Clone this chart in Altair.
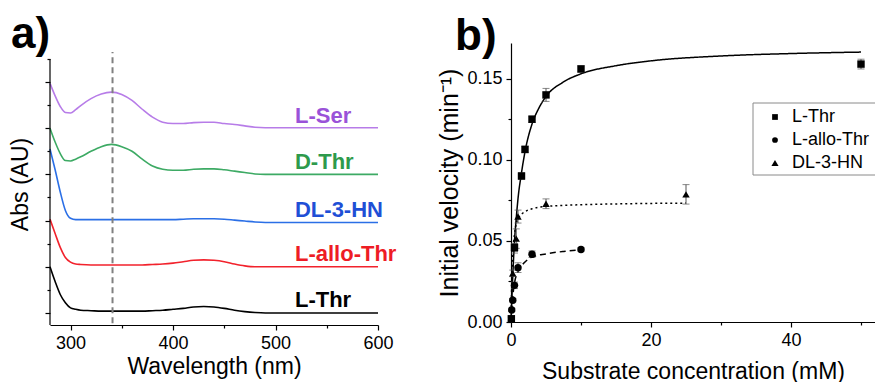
import altair as alt
import pandas as pd

FONT = "Liberation Sans"

# ---------------- Panel a data (UV-vis spectra, stacked with offsets) ----------------
wavelength = [280, 285, 290, 295, 300, 305, 310, 320, 330, 340, 350, 360, 370, 380,
              390, 400, 410, 420, 430, 440, 450, 460, 470, 480, 490, 500, 550, 600]
abs_l_ser = [4.97, 4.70, 4.47, 4.34, 4.33, 4.40, 4.49, 4.64, 4.74, 4.78, 4.73, 4.60, 4.41, 4.24,
             4.13, 4.10, 4.10, 4.12, 4.13, 4.13, 4.10, 4.08, 4.05, 4.02, 4.01, 4.01, 4.01, 4.01]
abs_d_thr = [4.00, 3.70, 3.45, 3.30, 3.29, 3.33, 3.38, 3.50, 3.60, 3.65, 3.60, 3.50, 3.33, 3.18,
             3.11, 3.09, 3.09, 3.11, 3.12, 3.12, 3.10, 3.07, 3.04, 3.01, 3.00, 3.00, 3.00, 3.00]
abs_dl_3hn = [3.55, 3.10, 2.62, 2.22, 2.05, 2.02, 2.02, 2.02, 2.02, 2.02, 2.02, 2.02, 2.02, 2.02,
              2.02, 2.02, 2.03, 2.04, 2.04, 2.04, 2.03, 2.01, 1.99, 1.97, 1.96, 1.96, 1.96, 1.96]
abs_l_allo = [2.03, 1.72, 1.42, 1.20, 1.10, 1.06, 1.05, 1.04, 1.04, 1.04, 1.04, 1.04, 1.04, 1.05,
              1.06, 1.08, 1.11, 1.14, 1.15, 1.14, 1.11, 1.06, 1.02, 1.00, 1.00, 1.00, 1.00, 1.00]
abs_l_thr = [1.00, 0.68, 0.40, 0.22, 0.11, 0.08, 0.06, 0.05, 0.04, 0.04, 0.04, 0.04, 0.04, 0.05,
             0.06, 0.08, 0.10, 0.13, 0.14, 0.13, 0.10, 0.06, 0.03, 0.01, 0.00, 0.00, 0.00, 0.00]

spec_names = ["L-Ser", "D-Thr", "DL-3-HN", "L-allo-Thr", "L-Thr"]
spec_values = [abs_l_ser, abs_d_thr, abs_dl_3hn, abs_l_allo, abs_l_thr]
line_colors = ["#B77CE8", "#3DAA64", "#2B6FE6", "#F2222C", "#000000"]
text_colors = ["#9A52D8", "#2E9A4C", "#1F4FD6", "#EE1C25", "#000000"]
label_y = [4.26, 3.27, 2.23, 1.28, 0.28]
label_wl = 519
marker_wl = 341

a_x_ticks = [300, 400, 500, 600]
a_x_minor = [350, 450, 550]
a_y_ticks = [0, 1, 2, 3, 4, 5]
a_y_minor = [0.5, 1.5, 2.5, 3.5, 4.5, 5.5]

# ---------------- Panel b data (kinetics) ----------------
series_b = ["L-Thr", "L-allo-Thr", "DL-3-HN"]
shapes_b = ["square", "circle", "triangle-up"]
sizes_b = [55, 55, 85]

lthr_x = [0.05, 0.5, 1.5, 2, 3, 5, 10, 50]
lthr_y = [0.002, 0.046, 0.090, 0.1064, 0.125, 0.140, 0.156, 0.159]
lthr_e = [0.001, 0.002, 0.002, 0.002, 0.002, 0.004, 0.002, 0.003]

lallo_x = [0.1, 0.25, 0.5, 1, 3, 10]
lallo_y = [0.0074, 0.0134, 0.0226, 0.0335, 0.0418, 0.0447]
lallo_e = [0.001, 0.001, 0.002, 0.003, 0.002, 0.001]

dl_x = [0.25, 0.5, 0.75, 1, 5, 25]
dl_y = [0.030, 0.0455, 0.0514, 0.0650, 0.0729, 0.0787]
dl_e = [0.002, 0.003, 0.006, 0.004, 0.003, 0.006]

fit_lthr_x = [0, 0.25, 0.5, 0.75, 1, 1.5, 2, 3, 4, 5, 7.5, 10, 15, 20, 30, 40, 50]
fit_lthr_y = [0, 0.028, 0.050, 0.064, 0.076, 0.092, 0.105, 0.122, 0.132, 0.139, 0.148, 0.153,
              0.158, 0.161, 0.164, 0.1655, 0.1664]
fit_lallo_x = [0, 0.1, 0.25, 0.5, 1, 2, 3, 5, 7.5, 10]
fit_lallo_y = [0, 0.0075, 0.0155, 0.024, 0.031, 0.037, 0.040, 0.042, 0.0435, 0.0445]
fit_dl_x = [0, 0.1, 0.25, 0.5, 1, 2, 3, 5, 10, 15, 25]
fit_dl_y = [0, 0.022, 0.040, 0.054, 0.0635, 0.068, 0.0698, 0.0712, 0.0723, 0.0728, 0.0733]

b_x_ticks = [0, 20, 40]
b_x_minor = [10, 30, 50]
b_y_ticks = [0, 0.05, 0.10, 0.15]
b_y_minor = [0.025, 0.075, 0.125]

legend_rows_y = [74, 97, 120]

# ---------------- geometry ----------------
A_W, A_H = 328, 282
B_W, B_H = 364, 279
A_X = [280, 600]
A_Y = [-0.26, 5.844]
B_X = [0, 52]
B_Y = [0, 0.172]


def sc(domain):
    return alt.Scale(domain=domain, nice=False, zero=False)


def minor_axis(orient, values):
    return alt.Axis(orient=orient, values=values, labels=False, domain=False,
                    tickSize=3, title=None, grid=False)


# ---------------- Panel a ----------------
rows = []
for name, vals, col in zip(spec_names, spec_values, line_colors):
    for w, v in zip(wavelength, vals):
        rows.append({"wl": w, "abs": v, "series": name, "color": col})
spec_df = pd.DataFrame(rows)

lines_a = alt.Chart(spec_df).mark_line(strokeWidth=1.6, interpolate="monotone").encode(
    x=alt.X("wl:Q", scale=sc(A_X),
            axis=alt.Axis(orient="bottom", values=a_x_ticks, title="Wavelength (nm)",
                          tickSize=5, labelPadding=4, titlePadding=3, labelFlush=False, grid=False)),
    y=alt.Y("abs:Q", scale=sc(A_Y),
            axis=alt.Axis(orient="left", values=a_y_ticks, labels=False, domain=False,
                          tickSize=5, title="Abs (AU)", titlePadding=12, grid=False)),
    color=alt.Color("color:N", scale=None),
    detail="series:N",
)

minor_a = alt.Chart(pd.DataFrame({"wl": [400], "abs": [1]})).mark_point(opacity=0).encode(
    x=alt.X("wl:Q", scale=sc(A_X), axis=minor_axis("bottom", a_x_minor)),
    y=alt.Y("abs:Q", scale=sc(A_Y), axis=minor_axis("left", a_y_minor)),
)

yline_a = alt.Chart(pd.DataFrame({"y0": [A_Y[0]], "y1": [5.5]})).mark_rule(
    color="black", strokeWidth=1.2).encode(
    x=alt.value(0),
    y=alt.Y("y0:Q", scale=sc(A_Y), axis=None),
    y2="y1:Q",
)

dash_a = alt.Chart(pd.DataFrame({"wl": [marker_wl], "y0": [-0.22], "y1": [5.65]})).mark_rule(
    color="#808080", strokeWidth=2, strokeDash=[6, 4]).encode(
    x=alt.X("wl:Q", scale=sc(A_X), axis=None),
    y=alt.Y("y0:Q", scale=sc(A_Y), axis=None),
    y2="y1:Q",
)

labels_a = alt.Chart(pd.DataFrame({"wl": [label_wl] * 5, "abs": label_y, "name": spec_names,
                                   "color": text_colors})).mark_text(
    align="left", baseline="middle", font=FONT, fontSize=22, fontWeight="bold").encode(
    x=alt.X("wl:Q", scale=sc(A_X), axis=None),
    y=alt.Y("abs:Q", scale=sc(A_Y), axis=None),
    text="name:N",
    color=alt.Color("color:N", scale=None),
)

title_a = alt.Chart(pd.DataFrame({"t": ["a)"]})).mark_text(
    align="left", baseline="alphabetic", font=FONT, fontSize=44, fontWeight="bold",
    color="black").encode(x=alt.value(-39), y=alt.value(5), text="t:N")

panel_a = alt.layer(lines_a, minor_a, yline_a, dash_a, labels_a, title_a).resolve_axis(
    x="independent", y="independent").properties(width=A_W, height=A_H)

# ---------------- Panel b ----------------
pts_rows = []
for name, xs, ys, es in [("L-Thr", lthr_x, lthr_y, lthr_e),
                         ("L-allo-Thr", lallo_x, lallo_y, lallo_e),
                         ("DL-3-HN", dl_x, dl_y, dl_e)]:
    for xv, yv, ev in zip(xs, ys, es):
        pts_rows.append({"c": xv, "v": yv, "lo": yv - ev, "hi": yv + ev, "series": name})
pts_df = pd.DataFrame(pts_rows)

fit_rows = []
for name, xs, ys in [("L-Thr", fit_lthr_x, fit_lthr_y),
                     ("L-allo-Thr", fit_lallo_x, fit_lallo_y),
                     ("DL-3-HN", fit_dl_x, fit_dl_y)]:
    for xv, yv in zip(xs, ys):
        fit_rows.append({"c": xv, "v": yv, "series": name})
fit_df = pd.DataFrame(fit_rows)

fits_b = alt.Chart(fit_df).mark_line(color="black", strokeWidth=1.5, interpolate="monotone").encode(
    x=alt.X("c:Q", scale=sc(B_X),
            axis=alt.Axis(orient="bottom", values=b_x_ticks, title="Substrate concentration (mM)",
                          tickSize=5, labelPadding=4, titlePadding=11, labelFlush=False, grid=False)),
    y=alt.Y("v:Q", scale=sc(B_Y),
            axis=alt.Axis(orient="left", values=b_y_ticks, format=".2f",
                          title="Initial velocity (min⁻¹)", titleFontSize=25, tickSize=5,
                          labelPadding=4, titlePadding=4, labelFlush=False, grid=False)),
    strokeDash=alt.StrokeDash("series:N", scale=alt.Scale(domain=series_b,
                                                          range=[[1, 0], [6, 4], [2, 3]]),
                              legend=None),
)

minor_b = alt.Chart(pd.DataFrame({"c": [20], "v": [0.05]})).mark_point(opacity=0).encode(
    x=alt.X("c:Q", scale=sc(B_X), axis=minor_axis("bottom", b_x_minor)),
    y=alt.Y("v:Q", scale=sc(B_Y), axis=minor_axis("left", b_y_minor)),
)

err_rule = alt.Chart(pts_df).mark_rule(color="#555555", strokeWidth=1).encode(
    x=alt.X("c:Q", scale=sc(B_X), axis=None),
    y=alt.Y("lo:Q", scale=sc(B_Y), axis=None),
    y2="hi:Q",
)
err_lo = alt.Chart(pts_df).mark_tick(orient="horizontal", size=7, thickness=1,
                                     color="#555555").encode(
    x=alt.X("c:Q", scale=sc(B_X), axis=None),
    y=alt.Y("lo:Q", scale=sc(B_Y), axis=None),
)
err_hi = alt.Chart(pts_df).mark_tick(orient="horizontal", size=7, thickness=1,
                                     color="#555555").encode(
    x=alt.X("c:Q", scale=sc(B_X), axis=None),
    y=alt.Y("hi:Q", scale=sc(B_Y), axis=None),
)

points_b = alt.Chart(pts_df).mark_point(filled=True, color="black", opacity=1).encode(
    x=alt.X("c:Q", scale=sc(B_X), axis=None),
    y=alt.Y("v:Q", scale=sc(B_Y), axis=None),
    shape=alt.Shape("series:N", scale=alt.Scale(domain=series_b, range=shapes_b), legend=None),
    size=alt.Size("series:N", scale=alt.Scale(domain=series_b, range=sizes_b), legend=None),
)

legend_box = alt.Chart(pd.DataFrame({"k": [0]})).mark_rect(
    fill="white", stroke="#8a8a8a", strokeWidth=1, clip=True).encode(
    x=alt.value(242), x2=alt.value(430), y=alt.value(60), y2=alt.value(132))

legend_layers = [legend_box]
for name, shp, sz, yp in zip(series_b, shapes_b, sizes_b, legend_rows_y):
    legend_layers.append(
        alt.Chart(pd.DataFrame({"k": [0]})).mark_point(
            filled=True, color="black", shape=shp, size=sz * 0.6, opacity=1).encode(
            x=alt.value(264), y=alt.value(yp)))
    legend_layers.append(
        alt.Chart(pd.DataFrame({"t": [name]})).mark_text(
            align="left", baseline="middle", font=FONT, fontSize=18, color="black",
            clip=True).encode(x=alt.value(281), y=alt.value(yp), text="t:N"))

title_b = alt.Chart(pd.DataFrame({"t": ["b)"]})).mark_text(
    align="left", baseline="alphabetic", font=FONT, fontSize=44, fontWeight="bold",
    color="black").encode(x=alt.value(-56), y=alt.value(7), text="t:N")

panel_b = alt.layer(fits_b, minor_b, err_rule, err_lo, err_hi, points_b, *legend_layers,
                    title_b).resolve_axis(x="independent", y="independent").properties(
    width=B_W, height=B_H)

chart = alt.hconcat(panel_a, panel_b, spacing=133, bounds="flush").properties(
    padding={"left": 1, "top": 5, "right": 0, "bottom": 0},
    background="white",
).configure_view(stroke=None).configure_axis(
    labelFont=FONT, titleFont=FONT, labelFontSize=18, titleFontSize=23,
    titleFontWeight="normal", labelColor="black", titleColor="black",
    domainColor="black", tickColor="black", domainWidth=1.2, tickWidth=1.2, grid=False,
)

chart.save("out.html", embed_options={"renderer": "svg", "actions": False})
